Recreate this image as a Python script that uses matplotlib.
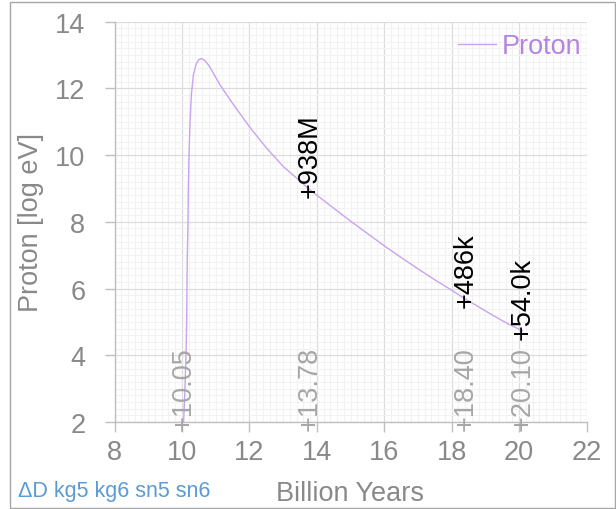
import matplotlib
matplotlib.use("Agg")
import matplotlib.pyplot as plt
from matplotlib.ticker import MultipleLocator
from matplotlib.patches import Rectangle
from matplotlib.transforms import offset_copy

plt.rcParams['font.family'] = ['Liberation Sans', 'DejaVu Sans']

# Curve: billion years vs log10(eV)
years = [10.05, 10.09, 10.12, 10.14, 10.15, 10.16, 10.18, 10.19, 10.21, 10.24,
         10.28, 10.34, 10.42, 10.50, 10.58, 10.68, 10.80, 10.95, 11.13, 11.50,
         12.00, 12.50, 13.00, 13.50, 13.78, 14.20, 14.60, 15.00, 15.50, 16.00,
         16.50, 17.00, 17.50, 18.00, 18.40, 18.80, 19.20, 19.60, 20.10]
log_ev = [2.00, 3.00, 4.00, 5.00, 6.00, 7.00, 8.00, 9.00, 10.00, 11.00,
          11.80, 12.40, 12.72, 12.86, 12.89, 12.83, 12.68, 12.42, 12.10, 11.55,
          10.85, 10.22, 9.66, 9.22, 8.97, 8.64, 8.33, 8.02, 7.65, 7.28,
          6.93, 6.59, 6.26, 5.95, 5.69, 5.45, 5.21, 4.98, 4.73]

# Annotated points
mark_years = [13.78, 18.40, 20.10]
mark_vals = [8.97, 5.69, 4.73]
mark_labels = ['938M', '486k', '54.0k']

# Bottom time markers
time_marks = [10.05, 13.78, 18.40, 20.10]
time_labels = ['10.05', '13.78', '18.40', '20.10']

x_ticks = [8, 10, 12, 14, 16, 18, 20, 22]
y_ticks = [2, 4, 6, 8, 10, 12, 14]

W, H = 616, 510
fig = plt.figure(figsize=(W / 100, H / 100), dpi=100)
ax = fig.add_axes([114.5 / W, 1 - 423 / H, 472 / W, 400.5 / H])

line_col = '#c9a3ef'
txt_gray = '#898989'
fs = 19.5

ax.set_xlim(8, 22)
ax.set_ylim(2, 14)
ax.set_xticks(x_ticks)
ax.set_yticks(y_ticks)
ax.xaxis.set_minor_locator(MultipleLocator(0.2))
ax.yaxis.set_minor_locator(MultipleLocator(0.2))
ax.grid(which='major', color='#dcdcdc', linewidth=0.9, zorder=0)
ax.grid(which='minor', color='#f2f2f2', linewidth=0.8, zorder=0)
ax.set_axisbelow(True)

for s in ['top', 'right']:
    ax.spines[s].set_visible(False)
for s in ['left', 'bottom']:
    ax.spines[s].set_color('#bfbfbf')
    ax.spines[s].set_linewidth(1.0)

ax.tick_params(axis='both', which='major', colors='#bfbfbf', labelcolor=txt_gray,
               labelsize=fs, length=7, width=1.0)
ax.tick_params(axis='y', pad=14)
ax.tick_params(axis='x', pad=5)
ax.tick_params(which='minor', length=0)

ax.set_xlabel('Billion Years', fontsize=fs, color=txt_gray, labelpad=11)
ax.set_ylabel('Proton [log eV]', fontsize=fs, color=txt_gray, labelpad=7.8)

ax.plot(years, log_ev, color=line_col, linewidth=1.0, label='Proton', zorder=3)

# Value annotations
for xv, yv, lab in zip(mark_years, mark_vals, mark_labels):
    tr = offset_copy(ax.transData, fig=fig, x=0, y=-8, units='dots')
    ax.text(xv, yv, '+' + lab, rotation=90, rotation_mode='anchor',
            ha='left', va='center', fontsize=fs, color='black',
            transform=tr, zorder=5)

for xv, lab in zip(time_marks, time_labels):
    tr = offset_copy(ax.transData, fig=fig, x=0, y=-8, units='dots')
    ax.text(xv, 2, '+' + lab, rotation=90, rotation_mode='anchor',
            ha='left', va='center', fontsize=fs, color='#a6a6a6',
            transform=tr, zorder=5, clip_on=False)

leg = ax.legend(loc='upper right', frameon=False, fontsize=fs,
                handlelength=1.4, handletextpad=0.2, borderaxespad=0,
                borderpad=0, labelcolor='#b584e0',
                bbox_to_anchor=(581 / W, 1 - 34 / H),
                bbox_transform=fig.transFigure)

fig.text(18 / W, 1 - 492 / H, 'ΔD kg5 kg6 sn5 sn6', fontsize=15.5,
         color='#5b9bd5', ha='left', va='center')

fig.patches.append(Rectangle((10 / W, 1 / H), 604.5 / W, 506 / H,
                             transform=fig.transFigure, fill=False,
                             edgecolor='#a6a6a6', linewidth=1.0))

fig.savefig('out.png', dpi=100)
